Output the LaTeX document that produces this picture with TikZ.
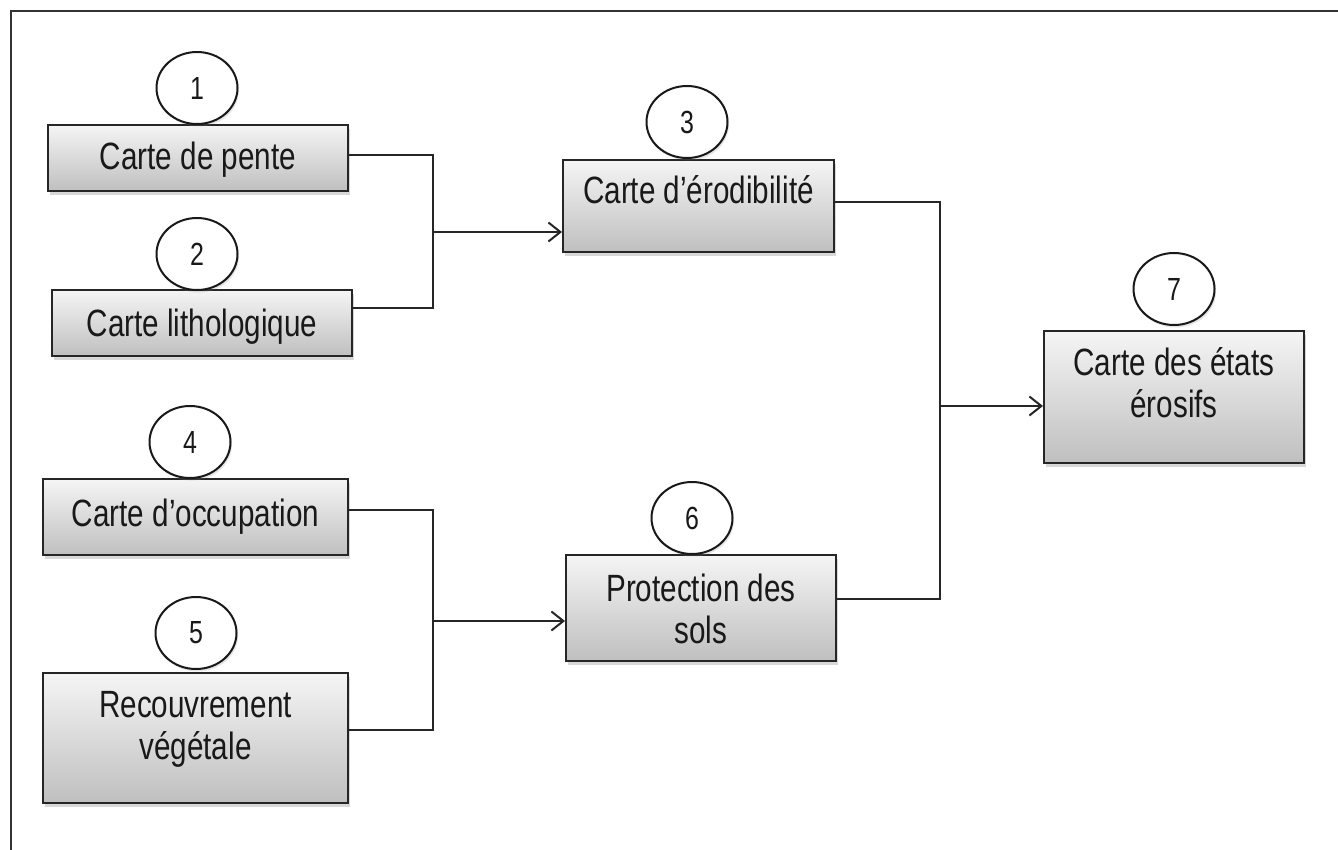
\documentclass[tikz,border=0pt]{standalone}
\usepackage{fontspec}
\setmainfont{Liberation Sans}[FakeStretch=0.78]
\usetikzlibrary{shadows,arrows.meta,shapes.geometric}
\newcommand{\twolines}[2]{\begin{tabular}[t]{@{}c@{}}#1\\#2\end{tabular}}
\begin{document}
\begin{tikzpicture}[x=1pt,y=-1pt,
  box/.style={rectangle, draw=black!85, line width=2pt, top color=gray!8, bottom color=gray!50,
    drop shadow={opacity=0.3, shadow xshift=2pt, shadow yshift=-4pt}, inner sep=0pt},
  num/.style={ellipse, draw=black!90, line width=2pt, fill=white, inner sep=0pt,
    minimum width=81pt, minimum height=72pt,
    drop shadow={opacity=0.2, shadow xshift=1.5pt, shadow yshift=-2.5pt},
    font=\fontsize{32}{36}\selectfont, text=black!90},
  lbl/.style={inner sep=0pt, anchor=base, font=\fontsize{38}{42}\selectfont, text=black!90},
  conn/.style={line width=2pt, draw=black!85},
  arr/.style={conn, -{Straight Barb[length=12pt,width=19pt,line width=2pt]}}
]
\fill[white] (0,0) rectangle (1338,850);
\useasboundingbox (0,0) rectangle (1338,850);
\draw[line width=2.2pt, black!80] (11,850) -- (11,11) -- (1338,11);

% boxes
\node[box, minimum width=300pt, minimum height=66pt] (b1) at (198,158) {};
\node[box, minimum width=300pt, minimum height=66pt] (b2) at (202,323) {};
\node[box, minimum width=271pt, minimum height=92pt] (b3) at (698.5,206) {};
\node[box, minimum width=305pt, minimum height=76pt] (b4) at (195.5,517) {};
\node[box, minimum width=305pt, minimum height=130pt] (b5) at (195.5,738) {};
\node[box, minimum width=270pt, minimum height=106pt] (b6) at (701,608) {};
\node[box, minimum width=260pt, minimum height=132pt] (b7) at (1174,397) {};

% texts
\node[lbl] (t1) at (198,170) {Carte de pente};
\node[lbl] (t2) at (202,336) {Carte lithologique};
\node[lbl] (t3) at (698.5,204) {Carte d’érodibilité};
\node[lbl] (t4) at (195.5,526) {Carte d’occupation};
\node[lbl] (t5) at (195.5,717) {\twolines{Recouvrement}{végétale}};
\node[lbl] (t6) at (701,601) {\twolines{Protection des}{sols}};
\node[lbl] (t7) at (1174,375) {\twolines{Carte des états}{érosifs}};

% numbered circles
\node[num] (c1) at (197,88) {1};
\node[num] (c2) at (197,254) {2};
\node[num] (c3) at (687,122) {3};
\node[num] (c4) at (190,442) {4};
\node[num] (c5) at (196,633) {5};
\node[num] (c6) at (692,518) {6};
\node[num] (c7) at (1174,289) {7};

% connectors
\coordinate (m1) at (433,232);
\coordinate (m2) at (433,621);
\coordinate (m3) at (940,406);
\draw[conn] ([yshift=3pt]b1.east) -| (m1) |- ([yshift=15pt]b2.east);
\draw[arr] (m1) -- (m1 -| b3.west);
\draw[conn] ([yshift=7pt]b4.east) -| (m2) |- ([yshift=8pt]b5.east);
\draw[arr] (m2) -- (m2 -| b6.west);
\draw[conn] ([yshift=4pt]b3.east) -| (m3) |- ([yshift=9pt]b6.east);
\draw[arr] (m3) -- (m3 -| b7.west);
\end{tikzpicture}
\end{document}
